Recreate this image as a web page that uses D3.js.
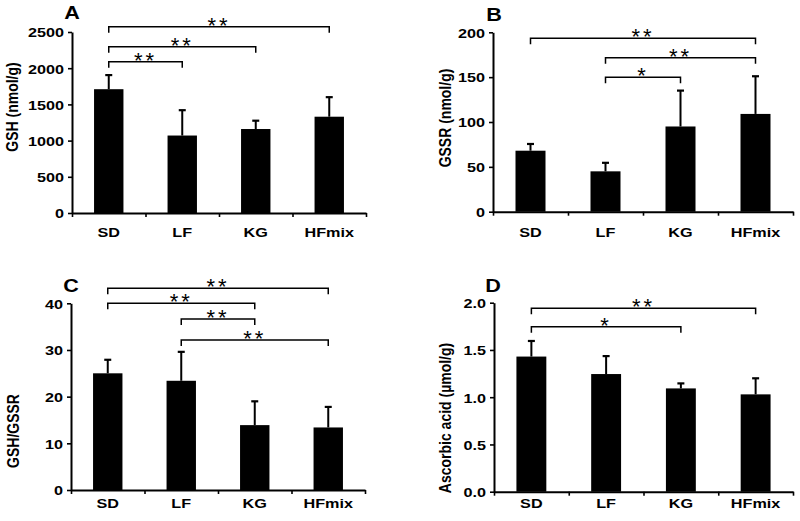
<!DOCTYPE html>
<html>
<head>
<meta charset="utf-8">
<script src="https://cdn.jsdelivr.net/npm/d3@7"></script>
<style>
  html, body { margin: 0; padding: 0; background: #fff; }
  svg { display: block; }
  text { font-family: "Liberation Sans", Arial, sans-serif; }
</style>
</head>
<body>
<svg id="chart" width="800" height="521"></svg>
<script>
// ---------- data ----------
const categories = ["SD", "LF", "KG", "HFmix"];

const gshMean = [1710, 1070, 1160, 1330];
const gshErr  = [195, 350, 115, 270];

const gssrMean = [68, 45, 95, 109];
const gssrErr  = [7.5, 9.5, 40, 42];

const ratioMean = [25.0, 23.4, 13.9, 13.4];
const ratioErr  = [2.9, 6.2, 5.1, 4.4];

const ascMean = [1.43, 1.245, 1.093, 1.03];
const ascErr  = [0.165, 0.19, 0.053, 0.17];

const ticksA = [0, 500, 1000, 1500, 2000, 2500];
const ticksB = [0, 50, 100, 150, 200];
const ticksC = [0, 10, 20, 30, 40];
const ticksD = [0, 0.5, 1.0, 1.5, 2.0];

// significance pairs: [from, to, label]
const sigA = [["SD", "HFmix", "**"], ["SD", "KG", "**"], ["SD", "LF", "**"]];
const sigB = [["SD", "HFmix", "**"], ["LF", "HFmix", "**"], ["LF", "KG", "*"]];
const sigC = [["SD", "HFmix", "**"], ["SD", "KG", "**"], ["LF", "KG", "**"], ["LF", "HFmix", "**"]];
const sigD = [["SD", "HFmix", "**"], ["SD", "KG", "*"]];

// ---------- layout ----------
const panels = [
  { letter: "A", mean: gshMean, err: gshErr, ticks: ticksA, fmt: d3.format("d"), ylabel: "GSH (nmol/g)", sig: sigA,
    L: { x0: 72, x1: 366, yb: 213, yt: 32, letterPos: [72, 18.5], ylabPos: [13, 107], xlabY: 237, brY: [26.7, 46.7, 61.7] } },
  { letter: "B", mean: gssrMean, err: gssrErr, ticks: ticksB, fmt: d3.format("d"), ylabel: "GSSR (nmol/g)", sig: sigB,
    L: { x0: 493, x1: 793, yb: 211.7, yt: 32.3, letterPos: [494, 21], ylabPos: [446, 118], xlabY: 237, brY: [38.3, 57.7, 77.3] } },
  { letter: "C", mean: ratioMean, err: ratioErr, ticks: ticksC, fmt: d3.format("d"), ylabel: "GSH/GSSR", sig: sigC,
    L: { x0: 71, x1: 365, yb: 490, yt: 303.3, letterPos: [71, 292], ylabPos: [14, 431], xlabY: 508, brY: [288.3, 303.3, 319, 340] } },
  { letter: "D", mean: ascMean, err: ascErr, ticks: ticksD, fmt: d3.format(".1f"), ylabel: "Ascorbic acid (\u00b5mol/g)", sig: sigD,
    L: { x0: 494, x1: 793, yb: 491.7, yt: 302.7, letterPos: [493, 292], ylabPos: [446, 418], xlabY: 508, brY: [308.3, 326.7] } }
];

const SX = 1.2; // horizontal stretch of the source image text
const FS = 13.5;
const svg = d3.select("#chart");

panels.forEach(p => {
  const L = p.L;
  const g = svg.append("g");
  const yMax = p.ticks[p.ticks.length - 1];

  const x = d3.scaleBand().domain(categories).range([L.x0, L.x1]).paddingInner(0.6).paddingOuter(0.3);
  const y = d3.scaleLinear().domain([0, yMax]).range([L.yb, L.yt]);
  const xEdge = d3.scaleLinear().domain([0, categories.length]).range([L.x0, L.x1]);

  // bars
  g.selectAll("rect.bar").data(categories).join("rect")
    .attr("x", d => x(d)).attr("width", x.bandwidth())
    .attr("y", (d, i) => y(p.mean[i])).attr("height", (d, i) => y(0) - y(p.mean[i]))
    .attr("fill", "#000");

  // error bars (upper only)
  categories.forEach((c, i) => {
    const cx = x(c) + x.bandwidth() / 2;
    const top = y(p.mean[i] + p.err[i]);
    g.append("line").attr("x1", cx).attr("x2", cx).attr("y1", y(p.mean[i])).attr("y2", top)
      .attr("stroke", "#000").attr("stroke-width", 2);
    g.append("line").attr("x1", cx - 3.5).attr("x2", cx + 3.5).attr("y1", top).attr("y2", top)
      .attr("stroke", "#000").attr("stroke-width", 2.2);
  });

  // y axis
  const ya = g.append("g").attr("transform", `translate(${L.x0},0)`)
    .call(d3.axisLeft(y).tickValues(p.ticks).tickFormat(p.fmt).tickSize(4).tickSizeOuter(0));
  ya.select(".domain").attr("stroke-width", 2);
  ya.selectAll(".tick line").attr("stroke-width", 1.6);
  ya.selectAll(".tick text")
    .attr("x", null).attr("dy", null)
    .attr("transform", `translate(-8,4.8) scale(${SX},1)`)
    .attr("font-size", FS).attr("font-weight", "bold").attr("fill", "#000")
    .attr("font-family", "Liberation Sans, Arial, sans-serif");

  // x axis
  const xa = g.append("g").attr("transform", `translate(0,${L.yb})`)
    .call(d3.axisBottom(xEdge).tickValues(d3.range(0, categories.length + 1)).tickFormat("").tickSize(4).tickSizeOuter(0));
  xa.select(".domain").attr("stroke-width", 2);
  xa.selectAll(".tick line").attr("stroke-width", 1.6);

  // category labels
  g.selectAll("text.cat").data(categories).join("text")
    .attr("class", "cat")
    .attr("transform", d => `translate(${x(d) + x.bandwidth() / 2},${L.xlabY}) scale(${SX},1)`)
    .attr("text-anchor", "middle").attr("font-size", FS).attr("font-weight", "bold")
    .text(d => d);

  // y label
  g.append("text")
    .attr("transform", `translate(${L.ylabPos[0] + 5},${L.ylabPos[1]}) scale(${SX},1) rotate(-90)`)
    .attr("text-anchor", "middle").attr("font-size", 14).attr("font-weight", "bold")
    .text(p.ylabel);

  // panel letter
  g.append("text")
    .attr("transform", `translate(${L.letterPos[0]},${L.letterPos[1]}) scale(${SX},1)`)
    .attr("text-anchor", "middle").attr("font-size", 18).attr("font-weight", "bold")
    .text(p.letter);

  // significance brackets
  p.sig.forEach((s, k) => {
    const xa1 = x(s[0]) + x.bandwidth() / 2;
    const xb1 = x(s[1]) + x.bandwidth() / 2;
    const by = L.brY[k];
    g.append("path")
      .attr("d", `M${xa1},${by + 6}V${by}H${xb1}V${by + 6}`)
      .attr("fill", "none").attr("stroke", "#000").attr("stroke-width", 1.5);
    g.append("text")
      .attr("x", (xa1 + xb1) / 2).attr("y", by + 6)
      .attr("text-anchor", "middle").attr("font-size", 22).attr("letter-spacing", 3)
      .text(s[2]);
  });
});
</script>
</body>
</html>
